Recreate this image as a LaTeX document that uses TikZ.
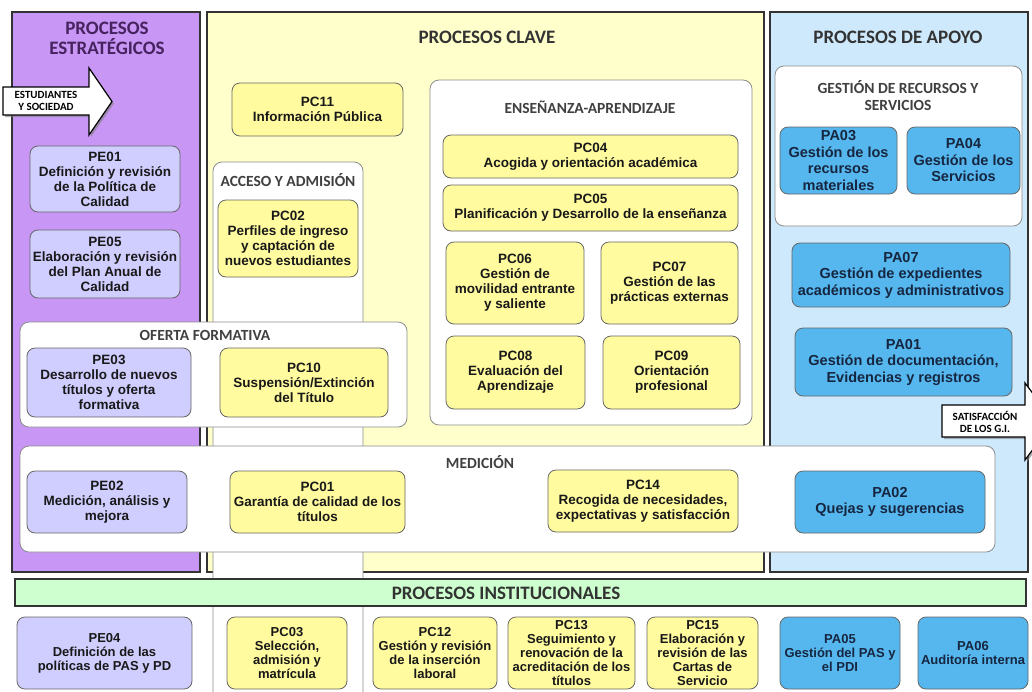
\documentclass[tikz,border=0pt]{standalone}
\usepackage{fontspec}
\setmainfont{Liberation Sans}
\newfontfamily\calibri{Carlito}
\usetikzlibrary{positioning,shadows}

\definecolor{estrategico}{RGB}{200,150,245}
\definecolor{clave}{RGB}{255,255,204}
\definecolor{apoyo}{RGB}{206,233,252}
\definecolor{institucional}{RGB}{206,255,206}
\definecolor{pelila}{RGB}{208,205,255}
\definecolor{pcamarillo}{RGB}{255,251,158}
\definecolor{paazul}{RGB}{86,183,238}
\definecolor{morado}{RGB}{70,35,95}
\definecolor{marino}{RGB}{22,38,64}

\tikzset{
  columna/.style={draw=black!80, line width=1.8pt},
  panel/.style={draw=black!45, fill=white, line width=0.8pt, rounded corners=9pt},
  caja/.style={draw=black!60, line width=0.8pt, rounded corners=8pt, align=center, inner sep=0pt,
    font=\bfseries\fontsize{13.5}{15}\selectfont, text=black!90},
  pebox/.style={caja, fill=pelila},
  pcbox/.style={caja, fill=pcamarillo},
  pabox/.style={caja, fill=paazul, text=marino, font=\bfseries\fontsize{14.5}{16.5}\selectfont},
  bajo/.style={font=\bfseries\fontsize{13}{13.8}\selectfont, minimum height=72},
  titulo/.style={font=\calibri\bfseries\fontsize{19}{20}\selectfont, align=center, text=black!80},
  subtitulo/.style={font=\calibri\bfseries\fontsize{15.5}{17}\selectfont, align=center, text=black!75},
  flecha/.style={draw=black, fill=white, line width=1.2pt,
    drop shadow={shadow xshift=2pt, shadow yshift=-2pt, opacity=0.6}},
  rotulo/.style={font=\calibri\bfseries\fontsize{11}{12}\selectfont, align=center, inner sep=0pt}
}

\begin{document}
\begin{tikzpicture}[x=1pt, y=-1pt]
    \useasboundingbox (0,0) rectangle (1032,691);
    \fill[white] (0,0) rectangle (1032,691);

    \draw[columna, fill=estrategico] (12,12) rectangle (200,572);
    \draw[columna, fill=clave] (207,12) rectangle (764,572);
    \draw[columna, fill=apoyo] (770,12) rectangle (1028,572);

    \node[titulo, text=morado] (testrat) at (107,38) {PROCESOS\\ESTRATÉGICOS};
    \node[titulo] (tclave) at (487,37) {PROCESOS CLAVE};
    \node[titulo] (tapoyo) at (898,37) {PROCESOS DE APOYO};

    \draw[panel] (213,162) rectangle (363,720);
    \draw[panel] (430,80) rectangle (752,425);
    \draw[panel] (775,66) rectangle (1022,226);
    \draw[panel] (20,322) rectangle (407,427);
    \draw[panel] (20,446) rectangle (995,552);

    \node[subtitulo] (tacceso) at (288,180) {ACCESO Y ADMISIÓN};
    \node[subtitulo] (tensen) at (590,107) {ENSEÑANZA-APRENDIZAJE};
    \node[subtitulo] (tgestion) at (898,96) {GESTIÓN DE RECURSOS Y\\SERVICIOS};
    \node[subtitulo] (toferta) at (205,335) {OFERTA FORMATIVA};
    \node[subtitulo] (tmedicion) at (480,462) {MEDICIÓN};

    \draw[flecha] (3,87) -- (89,87) -- (89,68) -- (112,101.5) -- (89,135) -- (89,115) -- (3,115) -- cycle;
    \node[rotulo] (estudiantes) at (46,101) {ESTUDIANTES\\Y SOCIEDAD};

    \node[pebox, minimum width=150, minimum height=66] (pe01) at (105,179) {PE01\\Definición y revisión\\de la Política de\\Calidad};
    \node[pebox, minimum width=150, minimum height=68] (pe05) at (105,264) {PE05\\Elaboración y revisión\\del Plan Anual de\\Calidad};
    \node[pebox, minimum width=164, minimum height=69] (pe03) at (109,382.5) {PE03\\Desarrollo de nuevos\\títulos y oferta\\formativa};
    \node[pebox, minimum width=160, minimum height=62] (pe02) at (107,502) {PE02\\Medición, análisis y\\mejora};

    \node[pcbox, minimum width=171, minimum height=53] (pc11) at (317.5,109.5) {PC11\\Información Pública};
    \node[pcbox, minimum width=140, minimum height=77] (pc02) at (288,238.5) {PC02\\Perfiles de ingreso\\y captación de\\nuevos estudiantes};
    \node[pcbox, minimum width=295, minimum height=43] (pc04) at (590.5,156.5) {PC04\\Acogida y orientación académica};
    \node[pcbox, minimum width=295, minimum height=46] (pc05) at (590.5,208) {PC05\\Planificación y Desarrollo de la enseñanza};
    \node[pcbox, minimum width=138, minimum height=82] (pc06) at (515,283) {PC06\\Gestión de\\movilidad entrante\\y saliente};
    \node[pcbox, minimum width=137, minimum height=82] (pc07) at (669.5,283) {PC07\\Gestión de las\\prácticas externas};
    \node[pcbox, minimum width=139, minimum height=73] (pc08) at (515.5,372.5) {PC08\\Evaluación del\\Aprendizaje};
    \node[pcbox, minimum width=137, minimum height=73] (pc09) at (671.5,372.5) {PC09\\Orientación\\profesional};
    \node[pcbox, minimum width=168, minimum height=69] (pc10) at (304,382.5) {PC10\\Suspensión/Extinción\\del Título};
    \node[pcbox, minimum width=175, minimum height=62] (pc01) at (317.5,502) {PC01\\Garantía de calidad de los\\títulos};
    \node[pcbox, minimum width=190, minimum height=62] (pc14) at (643,501) {PC14\\Recogida de necesidades,\\expectativas y satisfacción};

    \node[pabox, minimum width=117, minimum height=67] (pa03) at (838.5,160.5) {PA03\\Gestión de los\\recursos\\materiales};
    \node[pabox, minimum width=113, minimum height=67] (pa04) at (963.5,160.5) {PA04\\Gestión de los\\Servicios};
    \node[pabox, minimum width=218, minimum height=64] (pa07) at (901,275) {PA07\\Gestión de expedientes\\académicos y administrativos};
    \node[pabox, minimum width=217, minimum height=68] (pa01) at (903.5,362) {PA01\\Gestión de documentación,\\Evidencias y registros};
    \node[pabox, minimum width=190, minimum height=62] (pa02) at (890,502) {PA02\\Quejas y sugerencias};

    \draw[flecha] (942,405) -- (1025,405) -- (1025,383) -- (1054,421.5) -- (1025,460) -- (1025,437) -- (942,437) -- cycle;
    \node[rotulo] (satisfaccion) at (985,422) {SATISFACCIÓN\\DE LOS G.I.};

    \draw[columna, fill=institucional] (15,579) rectangle (1026,606);
    \node[titulo] (tinstit) at (506,593) {PROCESOS INSTITUCIONALES};

    \node[pebox, bajo, minimum width=175] (pe04) at (104.5,653) {PE04\\Definición de las\\políticas de PAS y PD};
    \node[pcbox, bajo, minimum width=120] (pc03) at (287,653) {PC03\\Selección,\\admisión y\\matrícula};
    \node[pcbox, bajo, minimum width=124] (pc12) at (435,653) {PC12\\Gestión y revisión\\de la inserción\\laboral};
    \node[pcbox, bajo, minimum width=127] (pc13) at (571.5,653) {PC13\\Seguimiento y\\renovación de la\\acreditación de los\\títulos};
    \node[pcbox, bajo, minimum width=111] (pc15) at (702.5,653) {PC15\\Elaboración y\\revisión de las\\Cartas de\\Servicio};
    \node[pabox, bajo, minimum width=120] (pa05) at (840,653) {PA05\\Gestión del PAS y\\el PDI};
    \node[pabox, bajo, minimum width=110] (pa06) at (973,653) {PA06\\Auditoría interna};
\end{tikzpicture}
\end{document}
